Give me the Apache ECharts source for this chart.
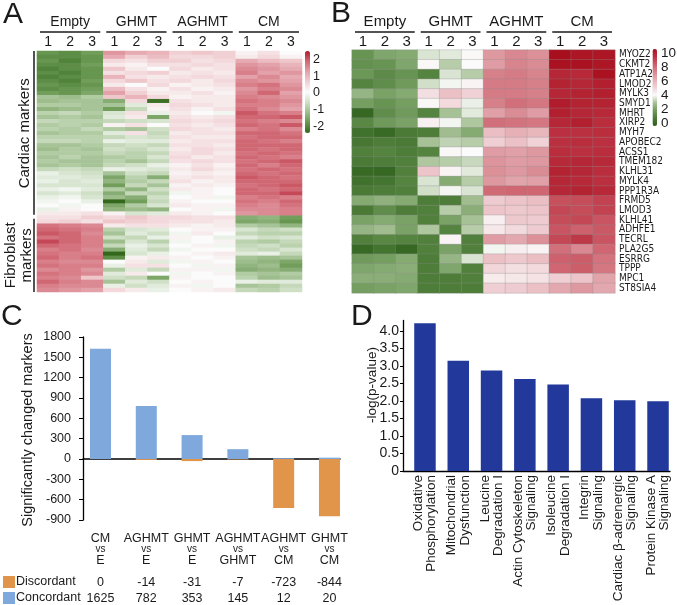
<!DOCTYPE html>
<html><head><meta charset="utf-8">
<script src="https://cdn.jsdelivr.net/npm/echarts@6/dist/echarts.min.js"></script>
<style>html,body{margin:0;padding:0;background:#fff}#c{width:677px;height:605px}</style>
</head><body><div id="c"></div>
<script>
// ---------------- DATA ----------------
const groups = ['Empty', 'GHMT', 'AGHMT', 'CM'];
const reps = ['1', '2', '3'];

// Panel A: z-scored expression, columns Empty1-3, GHMT1-3, AGHMT1-3, CM1-3
const cardiacRows = [
  [-1.5,-1.6,-1.4, 1.1,0.9,0.8, 0.5,0.6,0.5, 0.1,0.3,0.0],
  [-1.6,-1.6,-1.5, 0.9,0.5,0.7, 0.4,0.4,0.5, 0.2,0.4,0.1],
  [-1.5,-1.7,-1.5, 0.4,0.3,0.5, 0.5,0.3,0.4, 0.9,0.7,0.6],
  [-1.6,-1.6,-1.4, 0.2,0.1,0.3, 0.3,0.4,0.3, 1.1,1.0,0.8],
  [-1.7,-1.6,-1.5, 0.6,0.2,0.0, 0.4,0.2,0.3, 1.2,1.1,0.9],
  [-1.6,-1.7,-1.5, 0.3,0.4,0.5, 0.2,0.3,0.2, 1.3,1.0,1.1],
  [-1.7,-1.6,-1.5, 0.8,0.3,0.2, 0.3,0.4,0.3, 1.0,1.2,0.9],
  [-1.6,-1.7,-1.4, 0.4,0.6,0.3, 0.4,0.2,0.4, 1.2,1.1,1.0],
  [-1.5,-1.6,-1.5, 0.2,0.0,0.4, 0.1,0.2,0.3, 1.3,1.4,1.1],
  [-1.6,-1.5,-1.4, 0.7,0.3,0.1, 0.3,0.1,0.2, 1.1,1.3,1.2],
  [-1.4,-1.5,-1.3, 1.0,0.5,0.2, 0.2,0.3,0.1, 1.2,1.5,1.0],
  [-0.9,-1.0,-0.8, 0.6,0.8,0.4, 0.1,0.2,0.2, 1.3,1.2,1.1],
  [-1.0,-0.9,-0.9, -1.2,0.4,-1.9, 0.3,0.2,0.2, 1.4,1.3,1.2],
  [-0.8,-0.8,-0.9, -0.9,-0.3,0.2, 0.4,0.3,0.2, 1.3,1.3,1.1],
  [-1.1,-1.0,-0.9, -1.4,-0.6,0.1, 0.3,0.1,0.3, 1.4,1.2,1.0],
  [-0.7,-0.6,-0.8, -0.4,0.3,-0.2, 0.2,0.0,-0.1, 1.6,1.4,1.3],
  [-0.9,-0.8,-0.9, -0.3,0.2,-1.3, 0.3,0.2,0.3, 1.5,1.5,1.6],
  [-0.6,-0.7,-0.7, -0.6,-0.5,-0.4, 0.4,0.3,0.4, 1.4,1.3,1.2],
  [-0.8,-0.7,-0.8, 0.1,0.3,0.0, 0.3,0.2,0.3, 1.5,1.4,1.6],
  [-0.7,-0.8,-0.6, -0.8,-0.9,-0.5, 0.4,0.3,0.2, 1.3,1.4,1.2],
  [-0.9,-0.8,-0.8, -0.3,0.3,-0.6, 0.2,0.3,0.3, 1.5,1.5,1.4],
  [-0.7,-0.7,-0.7, -0.6,-0.4,-0.5, 0.3,0.2,0.2, 1.4,1.5,1.5],
  [-0.6,-0.6,-0.7, -0.2,-0.3,-0.3, 0.2,0.3,0.3, 1.5,1.4,1.3],
  [-0.9,-0.9,-0.8, -0.6,-0.5,-0.6, 0.3,0.3,0.2, 1.5,1.5,1.5],
  [-1.0,-0.8,-0.9, -0.5,-0.6,-0.4, 0.2,0.4,0.3, 1.5,1.4,1.5],
  [-0.8,-0.8,-0.8, -0.6,-0.7,-0.6, 0.3,0.4,0.2, 1.4,1.5,1.4],
  [-0.9,-0.7,-0.9, -0.8,-0.7,-0.4, 0.4,0.2,0.3, 1.5,1.4,1.3],
  [-0.8,-0.9,-0.9, -0.7,-0.9,-0.6, 0.3,0.4,0.3, 1.4,1.5,1.6],
  [-0.9,-0.8,-0.9, -0.6,-0.5,-0.2, 0.1,0.3,0.1, 1.5,1.3,1.5],
  [-0.6,-0.5,-0.6, -0.2,-0.3,-0.4, 0.2,0.4,0.2, 1.4,1.5,1.4],
  [-0.2,-0.4,-0.5, -0.9,-0.5,-0.6, 0.1,0.2,0.1, 1.5,1.4,1.5],
  [-0.3,-0.3,-0.4, -1.3,-0.7,-1.2, 0.2,0.3,0.2, 1.6,1.5,1.4],
  [-0.2,-0.4,-0.3, -1.1,-0.8,-0.6, 0.3,0.1,0.2, 1.5,1.5,1.5],
  [-0.4,-0.4,-0.4, -1.4,-0.6,-0.9, 0.1,0.2,0.1, 1.4,1.5,1.6],
  [-0.2,-0.1,-0.3, -0.8,-1.1,-0.5, 0.2,0.1,0.0, 1.5,1.4,1.5],
  [-0.4,-0.3,-0.5, -1.2,-0.6,-0.7, -0.1,0.1,0.0, 1.5,1.5,1.7],
  [-0.2,-0.1,-0.4, -1.0,-1.2,-0.5, 0.0,0.1,-0.1, 1.3,1.4,1.3],
  [-0.1,0.0,-0.2, -2.0,-1.4,-0.6, 0.1,0.0,0.0, 1.4,1.3,1.5],
  [0.0,-0.1,0.0, -1.3,-0.8,-0.4, 0.2,0.1,0.1, 1.3,1.2,1.4],
  [-0.2,0.1,0.0, -1.1,-1.0,-1.1, 0.0,0.1,-0.1, 1.2,1.2,1.3],
  [0.2,0.2,0.3, 0.1,-0.4,-0.3, 0.2,0.1,0.0, 1.1,1.2,1.3]
];
const fibroRows = [
  [0.3,0.3,0.5, 0.4,0.6,0.4, 0.4,0.3,0.3, -1.2,-1.1,-1.4],
  [0.4,0.5,0.3, 0.6,0.5,0.4, 0.3,0.3,0.2, -1.3,-1.2,-1.5],
  [1.4,1.3,1.2, 0.2,0.3,0.3, 0.2,0.1,0.2, -0.8,-0.9,-1.1],
  [1.5,1.4,1.3, -0.7,-0.4,-0.3, 0.0,0.1,0.1, -0.4,-0.6,-0.5],
  [1.6,1.5,1.2, -0.9,-0.3,-0.5, -0.1,0.2,0.0, -0.6,-0.7,-0.7],
  [1.4,1.5,1.3, -0.5,-0.6,-0.2, 0.1,0.0,-0.2, -0.3,-0.5,-0.4],
  [1.7,1.5,1.3, -1.0,-0.4,-0.7, -0.1,0.0,0.1, -0.7,-0.8,-0.6],
  [1.5,1.4,1.3, -0.6,-0.2,-0.4, 0.0,0.1,-0.1, -0.6,-0.5,-0.7],
  [1.3,1.4,1.2, -1.2,-0.3,-0.6, -0.1,0.0,0.0, -0.5,-0.6,-0.4],
  [1.4,1.3,1.3, -2.0,-0.4,-0.2, 0.0,0.1,0.2, -0.3,-0.2,-0.6],
  [1.5,1.3,1.4, -1.6,0.1,0.2, 0.1,0.0,0.1, -0.9,-1.0,-0.9],
  [1.3,1.2,1.2, 0.0,0.2,-0.3, -0.1,0.1,0.0, -1.0,-1.1,-1.3],
  [1.4,1.3,1.3, -0.2,0.3,0.3, 0.0,-0.1,0.1, -1.1,-1.0,-1.4],
  [1.2,1.3,1.1, -0.8,-0.3,-0.6, 0.1,0.1,-0.1, -1.2,-1.1,-1.2],
  [1.4,1.3,1.2, -0.3,0.2,0.0, -0.1,0.0,0.1, -0.8,-0.9,-0.8],
  [1.3,1.2,0.6, -0.5,-0.6,-1.3, 0.1,0.0,0.0, -0.7,-1.0,-0.9],
  [1.5,1.3,1.2, -0.9,-0.3,-0.5, 0.0,0.1,0.0, -0.2,-0.3,-0.3],
  [1.3,1.2,1.2, -0.2,-0.5,-0.3, 0.1,-0.1,0.0, -0.9,-0.8,-0.6],
  [1.2,1.1,1.0, 0.4,0.2,-0.2, 0.0,0.1,0.2, -0.6,-0.7,-0.5]
];
const scaleATicks = [2, 1, 0, -1, -2];

// Panel B: log2 expression
const genes = ['MYOZ2','CKMT2','ATP1A2','LMOD2','MYLK3','SMYD1','MHRT','XIRP2','MYH7','APOBEC2',
  'ACSS1','TMEM182','KLHL31','MYLK4','PPP1R3A','FRMD5','LMOD3','KLHL41','ADHFE1','TECRL',
  'PLA2G5','ESRRG','TPPP','MPC1','ST8SIA4'];
const geneValues = [
  [1.8,2.3,2.4, 3.6,3.7,4.1, 6.6,7.0,6.8, 10.0,9.8,9.8],
  [1.7,1.8,2.3, 4.1,3.2,4.0, 6.5,7.1,6.9, 9.9,9.9,9.8],
  [1.9,1.5,1.8, 1.3,3.6,3.2, 7.2,7.3,7.1, 9.3,9.2,9.9],
  [1.3,1.6,2.0, 3.5,3.9,4.2, 7.3,7.3,7.2, 9.4,9.3,9.5],
  [2.7,2.2,2.4, 4.7,5.5,5.0, 7.3,7.3,7.2, 9.3,9.4,9.5],
  [2.1,1.8,2.1, 4.1,4.8,3.8, 7.2,7.6,7.4, 9.6,9.4,9.4],
  [0.3,1.6,2.0, 1.3,3.0,3.7, 6.4,6.9,6.5, 9.5,9.3,9.2],
  [1.4,2.0,2.2, 4.3,3.9,3.1, 7.6,7.5,7.4, 9.3,9.5,9.1],
  [0.7,0.4,1.0, 1.1,2.9,2.4, 5.6,6.0,5.8, 9.0,9.0,9.1],
  [0.9,1.1,1.0, 3.0,3.3,3.2, 5.1,5.5,5.0, 9.0,9.1,9.0],
  [1.2,1.3,1.1, 1.3,4.1,4.0, 6.5,6.4,6.6, 9.1,9.0,9.1],
  [1.0,1.1,1.2, 3.1,3.2,3.4, 6.7,6.5,6.6, 9.2,9.3,9.2],
  [0.4,0.3,1.2, 5.4,4.2,3.7, 6.8,6.6,6.9, 9.4,9.3,9.1],
  [0.7,0.8,1.3, 3.6,2.4,3.2, 6.6,6.3,6.4, 9.3,9.2,9.0],
  [1.0,1.1,1.2, 3.5,3.9,3.6, 7.7,7.8,7.8, 9.3,9.4,9.2],
  [2.4,2.6,2.4, 1.1,1.1,2.9, 5.2,5.4,5.6, 8.3,8.4,8.6],
  [1.0,1.6,1.1, 1.2,3.2,2.5, 5.4,5.3,5.4, 8.5,8.4,8.6],
  [2.2,2.4,2.2, 1.2,2.2,3.0, 4.3,5.3,5.2, 8.4,8.5,8.2],
  [2.7,2.9,2.2, 3.1,1.3,3.2, 4.5,4.8,5.2, 8.2,7.9,8.1],
  [1.2,1.4,1.3, 1.2,4.2,1.2, 6.5,6.2,6.8, 8.5,8.8,8.2],
  [0.4,0.8,0.3, 1.2,2.2,1.2, 3.9,4.3,4.2, 7.6,7.0,7.8],
  [2.0,2.1,2.4, 1.1,2.7,3.6, 5.5,5.3,5.6, 7.9,8.0,7.5],
  [2.3,2.4,2.5, 1.1,2.3,1.2, 4.9,4.7,4.8, 7.8,8.0,7.4],
  [2.5,2.5,2.4, 1.1,1.1,1.2, 4.4,4.5,4.6, 5.1,5.4,6.3],
  [2.1,2.2,2.3, 1.1,1.1,1.1, 5.1,5.2,5.5, 6.2,6.6,6.2]
];
const scaleBTicks = [10, 8, 6, 4, 2, 0];

// Panel C
const comparisons = [['CM','E'], ['AGHMT','E'], ['GHMT','E'], ['AGHMT','GHMT'], ['AGHMT','CM'], ['GHMT','CM']];
const discordant = [0, -14, -31, -7, -723, -844];
const concordant = [1625, 782, 353, 145, 12, 20];

// Panel D
const pathways = ['Oxidative\nPhosphorylation', 'Mitochondrial\nDysfunction', 'Leucine\nDegradation I',
  'Actin Cytoskeleton\nSignaling', 'Isoleucine\nDegradation I', 'Integrin\nSignaling',
  'Cardiac β-adrenergic\nSignaling', 'Protein Kinase A\nSignaling'];
const logP = [4.22, 3.15, 2.87, 2.63, 2.47, 2.08, 2.02, 1.99];
const dTicks = [0, 0.5, 1.0, 1.5, 2.0, 2.5, 3.0, 3.5, 4.0];

// ---------------- LAYOUT / STYLE ----------------
const FONT = '"Liberation Sans", Arial, Helvetica, sans-serif';
const NARROW = '"Liberation Sans Narrow", "DejaVu Sans Condensed", "Liberation Sans", sans-serif';
const INK = '#1a1a1a';
const gA = {left: 37, top: 51, width: 265, height: 241};
const gB = {left: 352, top: 50, width: 263, height: 243};
const gC = {left: 83, top: 337, width: 257, height: 183};
const gD = {left: 403, top: 320.5, width: 267, height: 150.5};

const columns = groups.flatMap(g => reps.map(r => g + ' ' + r));
const rowsA = cardiacRows.concat(fibroRows);
const dataA = rowsA.flatMap((row, i) => row.map((v, j) => [j, i, v]));
const dataB = geneValues.flatMap((row, i) => row.map((v, j) => [j, i, v]));

const colorsA = ['#33671c','#679650','#9dbd8c','#cfe0c6','#fbfbfb','#f1d0d4','#e3a1a9','#d06873','#b3182d'];
const colorsB = ['#2d5f1b','#4a7a35','#6f9a5b','#a6c195','#fbfbfb','#f0d2d6','#e6b0b6','#d98891','#cc5e6a','#bb3040','#a80f1e'];

function T(x, y, text, size, extra) {
  const base = {text: text, fontSize: size, fontFamily: FONT, fill: INK, align: 'center', verticalAlign: 'middle'};
  const e = Object.assign({type: 'text', x: x, y: y, silent: true}, extra || {});
  e.style = Object.assign(base, (extra && extra.style) || {});
  return e;
}
function L(x1, y1, x2, y2, w) {
  return {type: 'line', silent: true, shape: {x1, y1, x2, y2}, style: {stroke: INK, lineWidth: w || 1.3}};
}

const graphics = [];
// panel letters
graphics.push(T(3, 15, 'A', 30, {style: {align: 'left'}}));
graphics.push(T(331, 14, 'B', 30, {style: {align: 'left'}}));
graphics.push(T(1, 317, 'C', 30, {style: {align: 'left'}}));
graphics.push(T(351, 317, 'D', 30, {style: {align: 'left'}}));
// group headers
[[gA, 14], [gB, 15]].forEach(([g, fs]) => {
  const cw = g.width / columns.length;
  groups.forEach((name, k) => {
    const x0 = g.left + 3 * k * cw, x1 = g.left + (3 * k + 3) * cw;
    graphics.push(T((x0 + x1) / 2, 22, name, fs));
    graphics.push(L(x0 + 3, 32, x1 - 3, 32, 1.3));
  });
});
// side labels panel A
const rowH = gA.height / rowsA.length;
const sepY = gA.top + cardiacRows.length * rowH;
graphics.push(L(34, gA.top, 34, sepY - 1, 1.5));
graphics.push(L(34, sepY + 3, 34, gA.top + gA.height, 1.5));
graphics.push(T(25, (gA.top + sepY) / 2, 'Cardiac markers', 15, {rotation: Math.PI / 2}));
graphics.push(T(19, (sepY + 3 + gA.top + gA.height) / 2, 'Fibroblast\nmarkers', 15, {rotation: Math.PI / 2, style: {lineHeight: 16}}));
// colorbar labels
scaleATicks.forEach(v => graphics.push(T(313, 59.5 + (2 - v) * 16.75, String(v), 12.5, {style: {align: 'left'}})));
scaleBTicks.forEach(v => graphics.push(T(661, 53 + (10 - v) * 7, String(v), 13.5, {style: {align: 'left'}})));
// axis titles
graphics.push(T(28, 430, 'Significantly changed markers', 14.5, {rotation: Math.PI / 2}));
graphics.push(T(372, 385, '-log(p-value)', 13.5, {rotation: Math.PI / 2}));
// legend C
graphics.push({type: 'rect', silent: true, shape: {x: 3, y: 576, width: 12, height: 12}, style: {fill: '#e0954b'}});
graphics.push({type: 'rect', silent: true, shape: {x: 3, y: 592, width: 12, height: 12}, style: {fill: '#7fa9dc'}});
graphics.push(T(16, 582, 'Discordant', 12.5, {style: {align: 'left'}}));
graphics.push(T(16, 598, 'Concordant', 12.5, {style: {align: 'left'}}));

const idxC = comparisons.map((c, i) => i);
const idxD = pathways.map((p, i) => i);

const hidden = {axisLine: {show: false}, axisTick: {show: false}, splitLine: {show: false}};

const option = {
  animation: false,
  textStyle: {fontFamily: FONT, color: INK},
  grid: [gA, gB, gC, gD].map(g => Object.assign({containLabel: false}, g)),
  xAxis: [
    Object.assign({gridIndex: 0, type: 'category', data: columns, position: 'top',
      axisLabel: {formatter: v => v.split(' ')[1], fontSize: 14, color: INK, margin: 2}}, hidden),
    Object.assign({gridIndex: 1, type: 'category', data: columns, position: 'top',
      axisLabel: {formatter: v => v.split(' ')[1], fontSize: 15, color: INK, margin: 1}}, hidden),
    {gridIndex: 2, type: 'value', min: -0.382, max: 5.23, axisLine: {onZero: true, lineStyle: {color: '#000', width: 1.5}},
      axisTick: {show: false}, axisLabel: {show: false}, splitLine: {show: false}},
    Object.assign({gridIndex: 2, type: 'value', min: -0.382, max: 5.23, position: 'bottom',
      axisLabel: {customValues: idxC, margin: 13, formatter: v => {
        const c = comparisons[Math.round(v)];
        return '{a|' + c[0] + '}\n{b|vs}\n{a|' + c[1] + '}';
      }, rich: {a: {fontSize: 12.5, lineHeight: 11, color: INK, fontFamily: FONT}, b: {fontSize: 10, lineHeight: 11, color: INK, fontFamily: FONT}}}}, hidden),
    Object.assign({gridIndex: 2, type: 'value', min: -0.382, max: 5.23, position: 'bottom',
      axisLabel: {customValues: idxC, margin: 56, fontSize: 12.5, color: INK, formatter: v => String(discordant[Math.round(v)])}}, hidden),
    Object.assign({gridIndex: 2, type: 'value', min: -0.382, max: 5.23, position: 'bottom',
      axisLabel: {customValues: idxC, margin: 72, fontSize: 12.5, color: INK, formatter: v => String(concordant[Math.round(v)])}}, hidden),
    {gridIndex: 3, type: 'value', min: -0.66, max: 7.36, axisLine: {onZero: false, lineStyle: {color: '#000', width: 1.3}},
      axisTick: {show: false}, splitLine: {show: false},
      axisLabel: {customValues: idxD, rotate: 90, margin: 4, fontSize: 13.5, lineHeight: 13.5, color: INK,
        formatter: v => pathways[Math.round(v)]}}
  ],
  yAxis: [
    Object.assign({gridIndex: 0, type: 'category', inverse: true, data: rowsA.map((r, i) => String(i)), axisLabel: {show: false}}, hidden),
    Object.assign({gridIndex: 1, type: 'category', inverse: true, data: genes, position: 'right',
      axisLabel: {interval: 0, fontSize: 10, color: INK, margin: 4, fontFamily: NARROW}}, hidden),
    {gridIndex: 2, type: 'value', min: -900, max: 1800, interval: 300,
      axisLine: {show: true, onZero: false, lineStyle: {color: '#000', width: 1.3}},
      axisTick: {show: true, length: 4, lineStyle: {color: '#000'}}, splitLine: {show: false},
      axisLabel: {fontSize: 12.5, color: INK, margin: 12, formatter: v => String(v)}},
    {gridIndex: 3, type: 'value', min: 0, max: 4.3,
      axisLine: {show: true, onZero: false, lineStyle: {color: '#000', width: 1.3}},
      axisTick: {show: true, length: 3, customValues: dTicks, lineStyle: {color: '#000'}}, splitLine: {show: false},
      axisLabel: {customValues: dTicks, fontSize: 14, color: INK, margin: 4, formatter: v => v === 0 ? '0' : v.toFixed(1)}}
  ],
  visualMap: [
    {type: 'continuous', seriesIndex: 0, min: -2, max: 2, inRange: {color: colorsA}, calculable: false, hoverLink: false,
      left: 305, top: 51, itemWidth: 5, itemHeight: 82, padding: 0, text: null, showLabel: false},
    {type: 'continuous', seriesIndex: 1, min: 0, max: 10, inRange: {color: colorsB}, calculable: false, hoverLink: false,
      left: 652.5, top: 49, itemWidth: 4.5, itemHeight: 77, padding: 0, text: null, showLabel: false}
  ],
  series: [
    {type: 'heatmap', xAxisIndex: 0, yAxisIndex: 0, data: dataA, progressive: 0, emphasis: {disabled: true}},
    {type: 'heatmap', xAxisIndex: 1, yAxisIndex: 1, data: dataB, progressive: 0, emphasis: {disabled: true},
      itemStyle: {borderColor: 'rgba(140,140,140,0.6)', borderWidth: 0.5}},
    {type: 'bar', name: 'Concordant', xAxisIndex: 2, yAxisIndex: 2, data: concordant.map((v, i) => [i, v]),
      barWidth: 21, barGap: '-100%', itemStyle: {color: '#7fa9dc'}},
    {type: 'bar', name: 'Discordant', xAxisIndex: 2, yAxisIndex: 2, data: discordant.map((v, i) => [i, v]),
      barWidth: 21, barGap: '-100%', itemStyle: {color: '#e0954b'}},
    {type: 'bar', xAxisIndex: 6, yAxisIndex: 3, data: logP.map((v, i) => [i, v]),
      barWidth: 21.5, itemStyle: {color: '#22389b'}}
  ],
  graphic: graphics
};

const chart = echarts.init(document.getElementById('c'), null, {renderer: 'canvas'});
chart.setOption(option);
</script>
</body></html>
